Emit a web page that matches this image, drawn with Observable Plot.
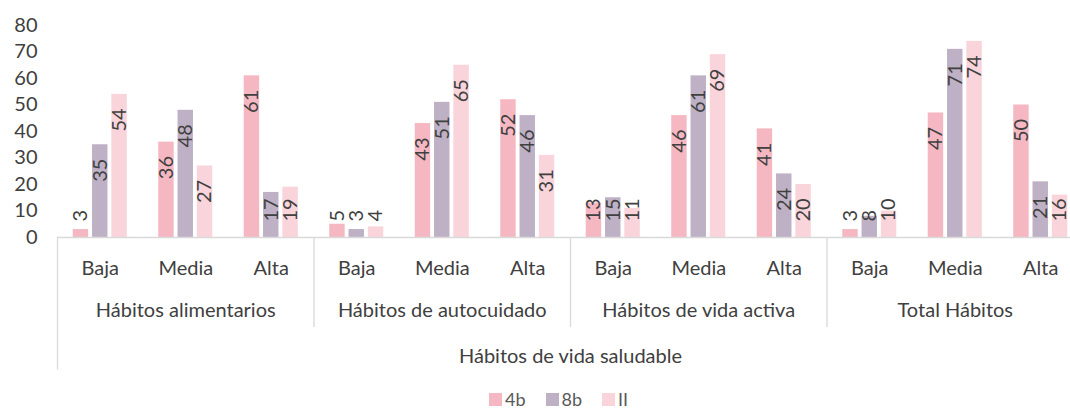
<!DOCTYPE html>
<html>
<head>
<meta charset="utf-8">
<script src="https://cdn.jsdelivr.net/npm/d3@7"></script>
<script src="https://cdn.jsdelivr.net/npm/@observablehq/plot@0.6"></script>
<style>
  html, body { margin: 0; padding: 0; background: #fff; width: 1070px; height: 409px; overflow: hidden; }
  #wrap { position: relative; width: 1070px; height: 409px; overflow: hidden; }
  #chart { width: 1083px; }
  #legend { position: absolute; left: 489px; top: 390px; display: flex; align-items: center;
            font-family: Lato, sans-serif; font-size: 18px; color: #595959; line-height: 18px; }
  #legend .item { display: flex; align-items: center; margin-right: 20px; }
  #legend .sw { width: 13px; height: 13px; margin-right: 3px; display: inline-block; }
</style>
</head>
<body>
<div id="wrap"><div id="chart"></div><div id="legend"></div></div>
<script>
const groups = ["Hábitos alimentarios", "Hábitos de autocuidado", "Hábitos de vida activa", "Total Hábitos"];
const levels = ["Baja", "Media", "Alta"];
const series = ["4b", "8b", "II"];
const colors = ["#f5b8c3", "#bfb1c5", "#f9d4da"];
const values4b = [3, 36, 61, 5, 43, 52, 13, 46, 41, 3, 47, 50];
const values8b = [35, 48, 17, 3, 51, 46, 15, 61, 24, 8, 71, 21];
const valuesII = [54, 27, 19, 4, 65, 31, 11, 69, 20, 10, 74, 16];
const overall = "Hábitos de vida saludable";
const yTicks = [0, 10, 20, 30, 40, 50, 60, 70, 80];

const seriesValues = [values4b, values8b, valuesII];
const keys = [];
groups.forEach((g, gi) => levels.forEach(l => keys.push(gi + "|" + l)));
const rows = [];
keys.forEach((k, ki) => series.forEach((s, si) => rows.push({key: k, series: s, value: seriesValues[si][ki]})));

const ink = "#404040";
const sepColor = "#d9d9d9";

const chart = Plot.plot({
  width: 1083,
  height: 385,
  marginLeft: 57,
  marginRight: 0,
  marginTop: 25,
  marginBottom: 148,
  style: {fontFamily: "Lato, sans-serif", fontSize: "20px", color: ink, background: "white", maxWidth: "none"},
  fx: {domain: keys, padding: 0, round: false, label: null, axis: "bottom", tickSize: 0, tickPadding: 23,
       tickFormat: k => k.split("|")[1]},
  x: {domain: series, paddingInner: 0.2, paddingOuter: 0.815, round: false, axis: null},
  y: {domain: [0, 80], ticks: yTicks, tickSize: 0, tickPadding: 20, label: null},
  color: {domain: series, range: colors},
  marks: [
    Plot.barY(rows, {fx: "key", x: "series", y: "value", fill: "series"}),
    Plot.ruleY([0], {stroke: sepColor, strokeWidth: 1.5}),
    Plot.ruleX(groups, {fx: (d, i) => i + "|Baja", x: () => "4b", y1: 0, y2: (d, i) => i === 0 ? -50 : -34,
      dx: -23.45, stroke: sepColor, strokeWidth: 1.3}),
    Plot.text(rows, {fx: "key", x: "series", y: d => Math.max(d.value - 14, 6), text: d => String(d.value),
      rotate: -90, textAnchor: "start", lineAnchor: "middle", fill: ink, fontSize: 20}),
    Plot.text(groups, {fx: (d, i) => i + "|Media", frameAnchor: "bottom", lineAnchor: "top", dy: 65,
      text: d => d, fill: ink, fontSize: 20}),
    Plot.text([overall], {fx: () => "1|Alta", frameAnchor: "bottom-right", textAnchor: "middle",
      lineAnchor: "top", dy: 111, text: d => d, fill: ink, fontSize: 20})
  ]
});
document.getElementById("chart").appendChild(chart);

const legend = document.getElementById("legend");
series.forEach((s, i) => {
  const item = document.createElement("div");
  item.className = "item";
  const sw = document.createElement("span");
  sw.className = "sw";
  sw.style.background = colors[i];
  const t = document.createElement("span");
  t.textContent = s;
  item.appendChild(sw);
  item.appendChild(t);
  legend.appendChild(item);
});
</script>
</body>
</html>
